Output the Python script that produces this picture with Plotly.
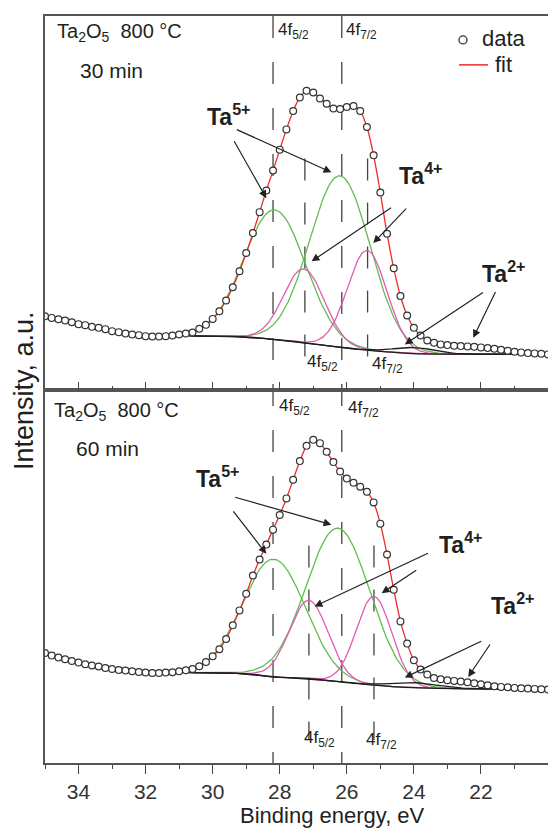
import numpy as np
import plotly.graph_objects as go

# ---------------- data ----------------
energy = [35.0, 34.8, 34.6, 34.4, 34.2, 34.0, 33.8, 33.6, 33.4, 33.2,
          33.0, 32.8, 32.6, 32.4, 32.2, 32.0, 31.8, 31.6, 31.4, 31.2,
          31.0, 30.8, 30.6, 30.4, 30.2, 30.0, 29.8, 29.6, 29.4, 29.2,
          29.0, 28.8, 28.6, 28.4, 28.2, 28.0, 27.8, 27.6, 27.4, 27.2,
          27.0, 26.8, 26.6, 26.4, 26.2, 26.0, 25.8, 25.6, 25.4, 25.2,
          25.0, 24.8, 24.6, 24.4, 24.2, 24.0, 23.8, 23.6, 23.4, 23.2,
          23.0, 22.8, 22.6, 22.4, 22.2, 22.0, 21.8, 21.6, 21.4, 21.2,
          21.0, 20.8, 20.6, 20.4, 20.2, 20.0]

data_30min = [74.0, 72.3, 71.0, 69.7, 68.0, 66.0, 65.0, 63.3, 62.3, 61.0,
              59.0, 58.0, 56.7, 55.7, 55.0, 54.0, 53.7, 53.7, 54.0, 54.7,
              55.7, 56.7, 57.7, 61.3, 65.3, 71.3, 79.0, 89.7, 103.0, 119.0,
              137.3, 157.3, 178.3, 200.0, 220.0, 241.0, 261.3, 279.7, 293.3, 300.0,
              298.3, 292.3, 287.0, 282.3, 281.7, 283.7, 284.7, 279.7, 263.7, 235.3,
              198.0, 156.7, 122.0, 94.3, 74.7, 62.3, 54.7, 49.7, 47.3, 45.7,
              45.0, 44.3, 44.0, 43.7, 43.3, 42.7, 42.0, 41.3, 40.3, 39.3,
              38.3, 37.7, 37.0, 36.7, 36.3, 35.7]

data_60min = [110.3, 107.7, 105.7, 104.0, 102.3, 100.7, 99.0, 97.7, 96.7, 95.3,
              94.3, 93.3, 92.7, 92.0, 91.3, 90.7, 90.3, 90.3, 90.7, 91.0,
              92.0, 93.0, 94.3, 97.0, 101.3, 107.0, 114.0, 124.3, 138.0, 153.0,
              169.7, 188.0, 204.0, 219.0, 234.0, 248.7, 265.3, 284.0, 302.7, 318.0,
              324.0, 320.7, 312.0, 301.7, 292.3, 285.3, 281.0, 277.0, 272.0, 261.3,
              240.0, 209.0, 173.7, 142.0, 119.7, 103.0, 93.7, 88.7, 85.3, 84.0,
              83.0, 82.3, 81.7, 81.0, 80.0, 79.0, 78.0, 77.0, 76.3, 76.0,
              75.3, 75.0, 74.7, 74.3, 74.0, 73.7]

# Background (black) knots
bg_energy_30 = [30.6, 29.5, 28.7, 28.2, 27.7, 27.25, 26.7, 26.2, 25.8, 25.4, 25.0, 24.5, 24.0, 23.0, 20.0]
bg_30min = [54.3, 53.7, 52.5, 50.7, 49.3, 47.3, 45.0, 42.7, 41.3, 40.0, 38.7, 37.5, 36.5, 36.0, 35.7]
bg_energy_60 = [30.6, 29.5, 28.7, 28.2, 27.6, 27.1, 26.6, 26.15, 25.6, 25.2, 24.5, 23.5, 22.0, 20.0]
bg_60min = [90.7, 90.3, 88.5, 86.3, 85.3, 84.5, 82.7, 81.0, 79.3, 78.0, 76.3, 75.0, 74.3, 73.7]

# Fitted components: [centre eV, height above background, width sigma eV]
ta5_30min = [[28.15, 130.0, 0.92], [26.20, 172.0, 0.90]]
ta4_30min = [[27.28, 74.0, 0.61], [25.39, 100.0, 0.59]]
ta2_30min = [[24.00, 6.0, 0.60]]
ta5_60min = [[28.17, 118.0, 0.93], [26.26, 154.0, 0.95]]
ta4_60min = [[27.13, 78.5, 0.58], [25.19, 89.0, 0.53]]
ta2_60min = [[24.00, 5.0, 0.70]]

# Reference line positions (eV)
ta5_lines = [28.2, 26.15]
ta4_lines_30 = [27.25, 25.38]
ta4_lines_60 = [27.13, 25.19]

x_ticks = [34, 32, 30, 28, 26, 24, 22, 20]

# ---------------- styling ----------------
FONT = "Arial, 'Liberation Sans', Helvetica, sans-serif"
TXT = "#231f20"
GREEN = "#62bd50"
PINK = "#e05cb4"
RED = "#ee2b2b"
BLACK = "#1e1e1e"
FRAME = "#555555"

# plot area in page pixels: x 45..548, y 14..763 (page has an 8px body margin)
def px_x(px):
    return (px - 45) / 503

def px_y(py):
    return (763 - py) / 749

e_fit = np.arange(30.7, 19.99, -0.05)

def baseline(ek, bk):
    return np.interp(e_fit, ek[::-1], bk[::-1])

def component(p, bg):
    c, h, s = p
    return bg + h * np.exp(-0.5 * ((e_fit - c) / s) ** 2)

fig = go.Figure()

def add_panel(xa, ya, data, bge, bgv, ta5, ta4, ta2, name_sfx):
    bg = baseline(bge, bgv)
    for p in ta5:
        fig.add_trace(go.Scatter(x=e_fit, y=component(p, bg), mode="lines", name="Ta5+" + name_sfx,
                                 line=dict(color=GREEN, width=1.3), showlegend=False,
                                 xaxis=xa, yaxis=ya, hoverinfo="skip"))
    for p in ta4:
        fig.add_trace(go.Scatter(x=e_fit, y=component(p, bg), mode="lines", name="Ta4+" + name_sfx,
                                 line=dict(color=PINK, width=1.3), showlegend=False,
                                 xaxis=xa, yaxis=ya, hoverinfo="skip"))
    for p in ta2:
        fig.add_trace(go.Scatter(x=e_fit, y=component(p, bg), mode="lines", name="Ta2+" + name_sfx,
                                 line=dict(color=BLACK, width=1.3), showlegend=False,
                                 xaxis=xa, yaxis=ya, hoverinfo="skip"))
    fig.add_trace(go.Scatter(x=bge, y=bgv, mode="lines", name="background" + name_sfx,
                             line=dict(color=BLACK, width=1.3, shape="spline"),
                             showlegend=False, xaxis=xa, yaxis=ya))
    fe = [e for e in energy if e <= 30.6]
    fv = [v for e, v in zip(energy, data) if e <= 30.6]
    fig.add_trace(go.Scatter(x=fe, y=fv, mode="lines", name="fit",
                             line=dict(color=RED, width=1.3, shape="spline", smoothing=0.8),
                             showlegend=False, xaxis=xa, yaxis=ya))
    fig.add_trace(go.Scatter(x=energy, y=data, mode="markers", name="data",
                             marker=dict(symbol="circle", size=6.8, color="white",
                                         line=dict(color="#333333", width=1.2)),
                             showlegend=False, xaxis=xa, yaxis=ya))

add_panel("x2", "y2", data_30min, bg_energy_30, bg_30min, ta5_30min, ta4_30min, ta2_30min, " (30 min)")
add_panel("x", "y", data_60min, bg_energy_60, bg_60min, ta5_60min, ta4_60min, ta2_60min, " (60 min)")

shapes = []
for e in ta5_lines:
    shapes.append(dict(type="line", xref="x", yref="paper", x0=e, x1=e, y0=1, y1=0,
                       line=dict(color="#444444", width=1.3, dash="22px,24px"), layer="below"))
for e in ta4_lines_30:
    shapes.append(dict(type="line", xref="x2", yref="y2", x0=e, x1=e, y0=232, y1=19,
                       line=dict(color="#444444", width=1.3, dash="22px,22px"), layer="below"))
for e in ta4_lines_60:
    shapes.append(dict(type="line", xref="x", yref="y", x0=e, x1=e, y0=218, y1=23,
                       line=dict(color="#444444", width=1.3, dash="22px,22px"), layer="below"))

# legend key symbols (drawn in page pixels)
shapes.append(dict(type="circle", xref="paper", yref="paper",
                   x0=px_x(459), x1=px_x(467), y0=px_y(42), y1=px_y(34),
                   line=dict(color="#333333", width=1.3), fillcolor="white"))
shapes.append(dict(type="line", xref="paper", yref="paper",
                   x0=px_x(459), x1=px_x(488), y0=px_y(63), y1=px_y(63),
                   line=dict(color=RED, width=1.5)))

ann = []

def label(text, px, py, size, xanchor="left", yanchor="middle", angle=0):
    ann.append(dict(text=text, x=px_x(px), y=px_y(py), xref="paper", yref="paper",
                    xanchor=xanchor, yanchor=yanchor, showarrow=False, textangle=angle,
                    font=dict(family=FONT, size=size, color=TXT)))

def arrow(xa, ya, tail, head):
    ann.append(dict(text=" ", font=dict(size=2), x=head[0], y=head[1], ax=tail[0], ay=tail[1],
                    xref=xa, yref=ya, axref=xa, ayref=ya, showarrow=True,
                    arrowhead=2, arrowsize=1.3, arrowwidth=1.2, arrowcolor="#222222", standoff=0))

# legend texts
label("data", 480, 37, 22)
label("fit", 493, 63, 22)

# panel texts
label("Ta<sub>2</sub>O<sub>5</sub>  800 °C", 55, 31, 20)
label("30 min", 78, 69, 21)
label("Ta<sub>2</sub>O<sub>5</sub>  800 °C", 52, 411, 20)
label("60 min", 74, 448, 21)

# 4f labels
f52 = "4f<sub>5/2</sub>"
f72 = "4f<sub>7/2</sub>"
label(f52, 276, 29, 17)
label(f72, 344, 29, 17)
label(f52, 305, 362, 17)
label(f72, 370, 364, 17)
label(f52, 277, 406, 17)
label(f72, 346, 408, 17)
label(f52, 302, 739, 17)
label(f72, 364, 741, 17)

# species labels
label("<b>Ta<sup>5+</sup></b>", 205, 113, 23)
label("<b>Ta<sup>4+</sup></b>", 397, 172, 23)
label("<b>Ta<sup>2+</sup></b>", 480, 271, 23)
label("<b>Ta<sup>5+</sup></b>", 194, 476, 23)
label("<b>Ta<sup>4+</sup></b>", 437, 542, 23)
label("<b>Ta<sup>2+</sup></b>", 489, 604, 23)

# arrows (top panel)
arrow("x2", "y2", (29.40, 252.0), (28.40, 192.3))
arrow("x2", "y2", (29.34, 262.0), (26.46, 218.3))
arrow("x2", "y2", (24.62, 184.0), (27.05, 129.0))
arrow("x2", "y2", (24.17, 184.0), (25.21, 147.3))
arrow("x2", "y2", (21.88, 99.0), (24.27, 45.7))
arrow("x2", "y2", (21.53, 100.7), (22.23, 52.3))
# arrows (bottom panel)
arrow("x", "y", (29.39, 267.0), (26.46, 239.0))
arrow("x", "y", (29.44, 254.7), (28.40, 209.7))
arrow("x", "y", (23.52, 211.3), (26.96, 157.0))
arrow("x", "y", (23.87, 194.7), (24.96, 170.3))
arrow("x", "y", (21.93, 123.0), (24.27, 85.7))
arrow("x", "y", (21.68, 121.3), (22.38, 86.3))

# axis titles
label("Intensity, a.u.", 24, 390, 27, xanchor="center", yanchor="middle", angle=-90)
label("Binding energy, eV", 332, 816, 22, xanchor="center", yanchor="middle")

axis_common = dict(showline=True, linecolor=FRAME, linewidth=1.5, mirror=True,
                   showgrid=False, zeroline=False)
split = 374 / 749

fig.update_layout(
    width=548, height=824,
    margin=dict(l=37, r=8, t=6, b=69),
    paper_bgcolor="white", plot_bgcolor="rgba(0,0,0,0)",
    font=dict(family=FONT, color=TXT),
    showlegend=False,
    xaxis=dict(domain=[0, 1], anchor="y", range=[35, 20], tickvals=x_ticks,
               ticks="outside", ticklen=9, tickwidth=1.3, tickcolor="#444",
               minor=dict(dtick=1, tick0=20, ticks="outside", ticklen=4, tickwidth=1.3, tickcolor="#444"),
               tickfont=dict(family=FONT, size=21, color="#333"), **axis_common),
    xaxis2=dict(domain=[0, 1], anchor="y2", range=[35, 20], tickvals=x_ticks,
                ticks="inside", ticklen=8, tickwidth=1.3, tickcolor="#444",
                minor=dict(dtick=1, tick0=20, ticks="inside", ticklen=4, tickwidth=1.3, tickcolor="#444"),
                showticklabels=False, **axis_common),
    yaxis=dict(domain=[0, split], anchor="x", range=[0, 374], ticks="", showticklabels=False, **axis_common),
    yaxis2=dict(domain=[split, 1], anchor="x2", range=[0, 375], ticks="", showticklabels=False, **axis_common),
    shapes=shapes,
    annotations=ann,
)

fig.write_html("out.html")
